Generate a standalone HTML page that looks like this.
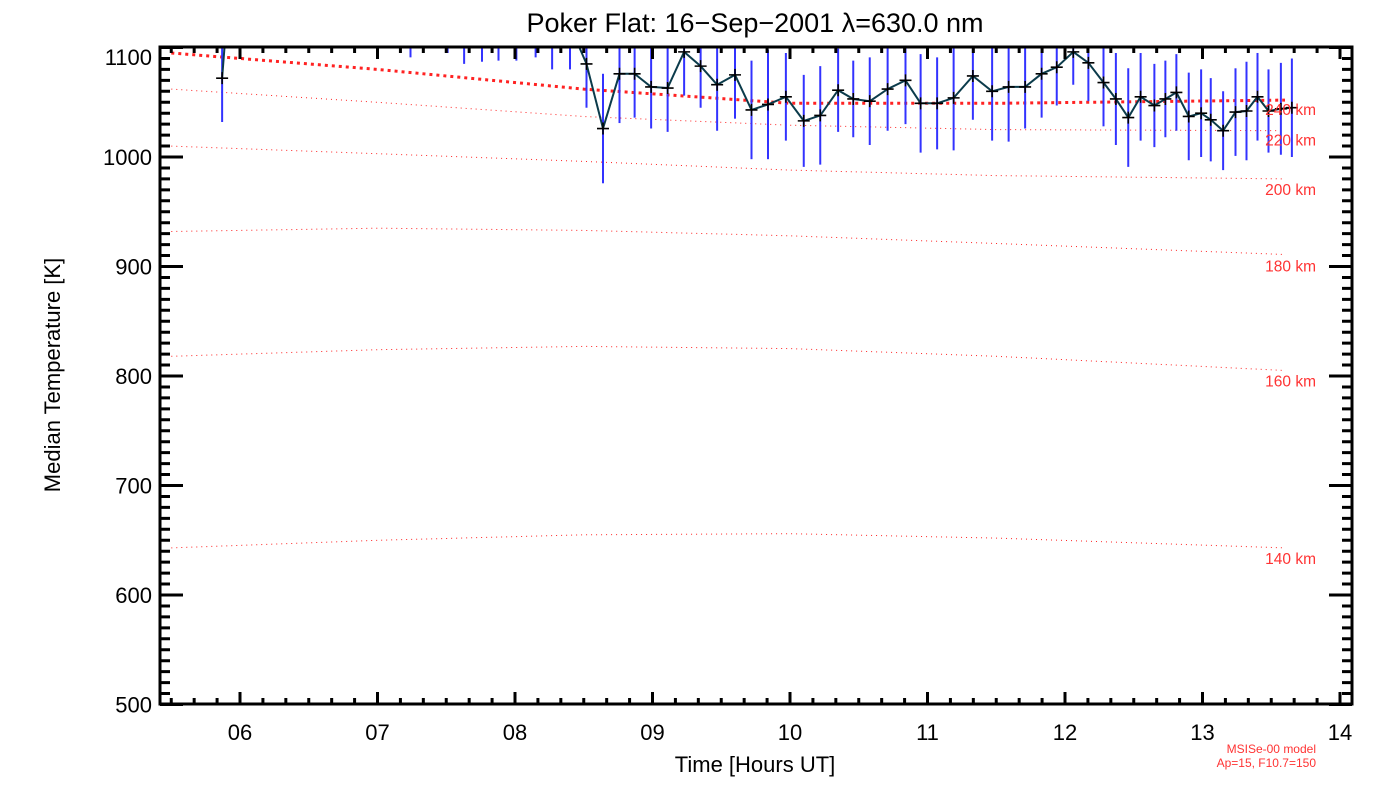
<!DOCTYPE html>
<html><head><meta charset="utf-8"><style>
html,body{margin:0;padding:0;background:#fff;}
svg{display:block;font-family:"Liberation Sans","DejaVu Sans",sans-serif;}
</style></head><body>
<svg id="chart" width="1400" height="800" viewBox="0 0 1400 800">
<defs><clipPath id="clip"><rect x="160" y="47" width="1192" height="657"/></clipPath></defs>
<text x="755" y="32" font-size="27" text-anchor="middle">Poker Flat: 16−Sep−2001 λ=630.0 nm</text>
<g id="grid-red" clip-path="url(#clip)"></g>
<g id="errs" clip-path="url(#clip)"></g>
<g id="series" clip-path="url(#clip)"></g>
<g id="axes"></g>
<text x="755" y="772" font-size="22" text-anchor="middle">Time [Hours UT]</text>
<text transform="translate(60,375) rotate(-90)" font-size="22" text-anchor="middle">Median Temperature [K]</text>
<text x="1316" y="753" font-size="12" fill="#ff3333" text-anchor="end">MSISe-00 model</text>
<text x="1316" y="767" font-size="12" fill="#ff3333" text-anchor="end">Ap=15, F10.7=150</text>
</svg>
<script>
const times=[5.87,5.98,7.24,7.51,7.63,7.76,7.88,8.01,8.15,8.27,8.40,8.52,8.64,8.76,8.87,8.99,9.11,9.23,9.35,9.47,9.60,9.72,9.84,9.97,10.10,10.22,10.35,10.46,10.58,10.71,10.84,10.95,11.07,11.19,11.33,11.47,11.59,11.71,11.83,11.94,12.06,12.17,12.28,12.37,12.46,12.55,12.65,12.73,12.81,12.90,12.99,13.06,13.15,13.24,13.32,13.40,13.48,13.57,13.65];
const temps=[1072,1250,1131,1135,1125,1127,1128,1128,1131,1120,1120,1085,1026,1076,1076,1064,1063,1096,1083,1066,1075,1043,1048,1055,1033,1038,1061,1053,1051,1062,1070,1049,1049,1054,1074,1060,1064,1064,1076,1082,1096,1086,1068,1053,1036,1055,1047,1053,1059,1037,1040,1034,1024,1041,1042,1055,1042,1044,1045];
const sigmas=[40,40,40,40,40,40,40,40,40,40,40,40,50,45,40,38,40,40,38,42,40,45,50,40,42,45,38,35,40,38,40,45,42,48,40,45,50,38,40,35,30,35,40,42,45,40,38,35,35,40,40,38,36,40,45,40,38,42,45];
const modelTimes=[5.5,7.0,8.5,10.0,11.5,13.6];
const model240=[1095,1080,1062,1049,1049,1052];
const model220=[1062,1050,1037,1029,1025,1024];
const model200=[1010,1003,996,988,983,980];
const model180=[932,935,933,928,921,911];
const model160=[818,824,827,825,818,805];
const model140=[643,650,655,656,652,643];
const modelLabels=["240 km","220 km","200 km","180 km","160 km","140 km"];
const xTicks=[6,7,8,9,10,11,12,13,14];
const xTickLabels=["06","07","08","09","10","11","12","13","14"];
const yTicks=[500,600,700,800,900,1000,1100];

const NS="http://www.w3.org/2000/svg";
const X=t=>240+(t-6)*137.5;
const Y=v=>157+(1000-v)*1.095;
function mk(tag,parent,attrs){const e=document.createElementNS(NS,tag);for(const k in attrs)e.setAttribute(k,attrs[k]);parent.appendChild(e);return e;}

const gr=document.getElementById('grid-red');
const models=[model240,model220,model200,model180,model160,model140];
const labelOff=[10,10,11,12,11,11];
models.forEach((m,i)=>{
  const pts=m.map((v,j)=>X(modelTimes[j]).toFixed(1)+','+Y(v).toFixed(1)).join(' ');
  const pl=mk('polyline',gr,{points:pts,fill:'none',stroke:'#ff2222','stroke-width':i==0?3:1,'stroke-dasharray':i==0?'3 4':'1 4'});
  
  
  const last=m[m.length-1];
  const tx=mk('text',document.getElementById('chart'),{x:1316,y:Y(last)+labelOff[i]+5,'font-size':15.5,fill:'#ff3333','text-anchor':'end'});
  tx.textContent=modelLabels[i];
  
  
});

const ge=document.getElementById('errs');
times.forEach((t,i)=>{
  const l=mk('line',ge,{x1:X(t),x2:X(t),y1:Y(temps[i]+sigmas[i]),y2:Y(temps[i]-sigmas[i]),stroke:'#3333ff','stroke-width':2});
  
  
});
const gs=document.getElementById('series');
const line=mk('polyline',gs,{points:times.map((t,i)=>X(t).toFixed(1)+','+Y(temps[i]).toFixed(1)).join(' '),fill:'none',stroke:'#0b3b4b','stroke-width':2});


times.forEach((t,i)=>{
  const x=X(t),y=Y(temps[i]);
  const p=mk('path',gs,{d:`M${x-6},${y}H${x+6}M${x},${y-6}V${y+6}`,stroke:'#000','stroke-width':1.6});
  
  
});

const ga=document.getElementById('axes');
const frame=mk('rect',ga,{x:160,y:47,width:1192,height:657,fill:'none',stroke:'#000','stroke-width':3});


let d='';
for(let t=5.5;t<=14.09;t+=1/6){const x=X(t);const maj=Math.abs(t-Math.round(t))<0.01;const h=maj?12:6;d+=`M${x},704V${704-h}M${x},47V${47+h}`;}
for(let v=500;v<=1100;v+=10){const y=Y(v);if(y<47)continue;const maj=v%100==0;const w=maj?23:10;d+=`M160,${y}H${160+w}M1352,${y}H${1352-w}`;}
const tk=mk('path',ga,{d:d,stroke:'#000','stroke-width':3});


xTicks.forEach((t,i)=>{
  const tx=mk('text',ga,{x:X(t),y:740,'font-size':22,'text-anchor':'middle'});
  tx.textContent=xTickLabels[i];
  
  
});
yTicks.forEach(v=>{
  const y=Math.max(Y(v),57);
  const tx=mk('text',ga,{x:152,y:y+8,'font-size':22,'text-anchor':'end'});
  tx.textContent=v;
  
  
});
</script>
</body></html>
